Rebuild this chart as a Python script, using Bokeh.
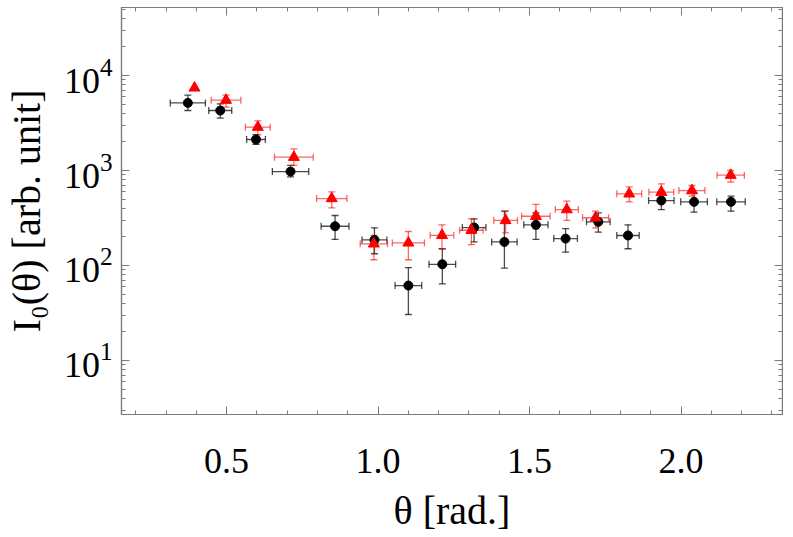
import math
from bokeh.plotting import figure
from bokeh.models import (ColumnDataSource, Whisker, TeeHead, FixedTicker, LogAxis,
                          LinearAxis, CustomJSTickFormatter, Range1d, PrintfTickFormatter)
from bokeh.embed import file_html
from bokeh.resources import INLINE

NaN = float("nan")

# ---- data ----
black_theta = [0.372, 0.479, 0.597, 0.711, 0.858, 0.988, 1.100, 1.212, 1.317, 1.417,
               1.521, 1.619, 1.727, 1.825, 1.935, 2.043, 2.165]
black_I = [5150, 4280, 2120, 975, 259, 186, 61.5, 103, 251, 177,
           268, 192, 288, 207, 483, 468, 468]
black_I_lo = [4280, 3560, 1880, 858, 188, 133, 30.5, 64, 177, 94,
              188, 138, 224, 150, 388, 364, 373]
black_I_hi = [6210, 5030, 2390, 1130, 336, 249, 95, 150, 310, 373,
              358, 245, 358, 268, 606, 582, 537]
black_dtheta = [0.058, 0.038, 0.031, 0.060, 0.046, 0.041, 0.044, 0.044, 0.039, 0.042,
                0.040, 0.039, 0.039, 0.037, 0.042, 0.044, 0.047]

red_theta = [0.394, 0.498, 0.603, 0.722, 0.847, 0.986, 1.100, 1.211, 1.308, 1.421,
             1.521, 1.623, 1.718, 1.829, 1.935, 2.036, 2.164]
red_I = [7410, 5500, 2860, 1380, 507, 169, 173, 208, 235, 298,
         330, 388, 318, 568, 591, 615, 893]
red_I_lo = [NaN, 4640, 2370, 1130, 404, 115, 115, 150, 166, 221,
            243, 298, 249, 468, 476, 537, 753]
red_I_hi = [NaN, 6210, 3330, 1690, 596, 208, 228, 268, 310, 373,
            439, 476, 373, 673, 724, 695, 1000]
red_dtheta = [NaN, 0.049, 0.041, 0.064, 0.050, 0.045, 0.053, 0.039, 0.039, 0.039,
              0.047, 0.038, 0.043, 0.041, 0.041, 0.043, 0.045]

x_major = [0.5, 1.0, 1.5, 2.0]
x_minor = [0.2, 0.3, 0.4, 0.6, 0.7, 0.8, 0.9, 1.1, 1.2, 1.3, 1.4, 1.6, 1.7, 1.8, 1.9,
           2.1, 2.2, 2.3]
y_major = [10, 100, 1000, 10000]
y_minor = [m * 10 ** e for e in range(0, 5) for m in range(2, 10)]

FRAME = "#7a7a7a"
FONT = "Liberation Serif"

p = figure(frame_width=661, frame_height=407,
           x_range=Range1d(0.153, 2.335), y_range=Range1d(2.7, 52000),
           y_axis_type="log", output_backend="svg", toolbar_location=None,
           min_border_left=115, min_border_right=1, min_border_top=7,
           min_border_bottom=110)
p.grid.visible = False
p.outline_line_color = FRAME
p.outline_line_width = 1.2

xt = FixedTicker(ticks=x_major, minor_ticks=x_minor)
yt = FixedTicker(ticks=y_major, minor_ticks=y_minor)
p.xaxis.ticker = xt
p.yaxis.ticker = yt
p.xaxis.formatter = PrintfTickFormatter(format="%.1f")


def style(ax):
    ax.axis_line_color = FRAME
    ax.axis_line_width = 1.2
    ax.major_tick_line_color = FRAME
    ax.minor_tick_line_color = FRAME
    ax.major_tick_in = 8
    ax.major_tick_out = 0
    ax.minor_tick_in = 4
    ax.minor_tick_out = 0
    ax.major_label_text_font = FONT
    ax.major_label_text_font_size = "36px"
    ax.major_label_text_color = "black"
    ax.axis_label_text_font = FONT
    ax.axis_label_text_font_size = "40px"
    ax.axis_label_text_font_style = "normal"
    ax.axis_label_text_color = "black"


for ax in p.xaxis + p.yaxis:
    style(ax)
p.xaxis.major_label_standoff = 34
p.yaxis.major_label_standoff = 9
p.xaxis.axis_label = "θ [rad.]"
p.yaxis.axis_label = "I₀(θ) [arb. unit]"
p.xaxis.axis_label_standoff = 12
p.yaxis.axis_label_standoff = 12

blank = CustomJSTickFormatter(code="return ''")
top = LinearAxis(ticker=xt, formatter=blank, major_label_standoff=0)
right = LogAxis(ticker=yt, formatter=blank, major_label_standoff=0)
for ax in (top, right):
    style(ax)
    ax.major_label_text_font_size = "0px"
p.add_layout(top, "above")
p.add_layout(right, "right")


def add_series(theta, I, lo, hi, dth, color, alpha, marker, size):
    src = ColumnDataSource(dict(
        x=theta, y=I, lo=lo, hi=hi,
        xl=[t - d for t, d in zip(theta, dth)],
        xh=[t + d for t, d in zip(theta, dth)]))
    for dim, base, l, u in (("height", "x", "lo", "hi"), ("width", "y", "xl", "xh")):
        w = Whisker(source=src, base=base, lower=l, upper=u, dimension=dim,
                    line_color=color, line_alpha=alpha, line_width=1.3,
                    upper_head=TeeHead(size=7, line_color=color, line_alpha=alpha, line_width=1.3),
                    lower_head=TeeHead(size=7, line_color=color, line_alpha=alpha, line_width=1.3))
        p.add_layout(w)
    p.scatter("x", "y", source=src, marker=marker, size=size,
              fill_color=color, line_color=color)


add_series(black_theta, black_I, black_I_lo, black_I_hi, black_dtheta,
           "#000000", 0.7, "circle", 9)
add_series(red_theta, red_I, red_I_lo, red_I_hi, red_dtheta,
           "#ff0000", 0.6, "triangle", 11)

open("out.html", "w").write(file_html(p, INLINE))
